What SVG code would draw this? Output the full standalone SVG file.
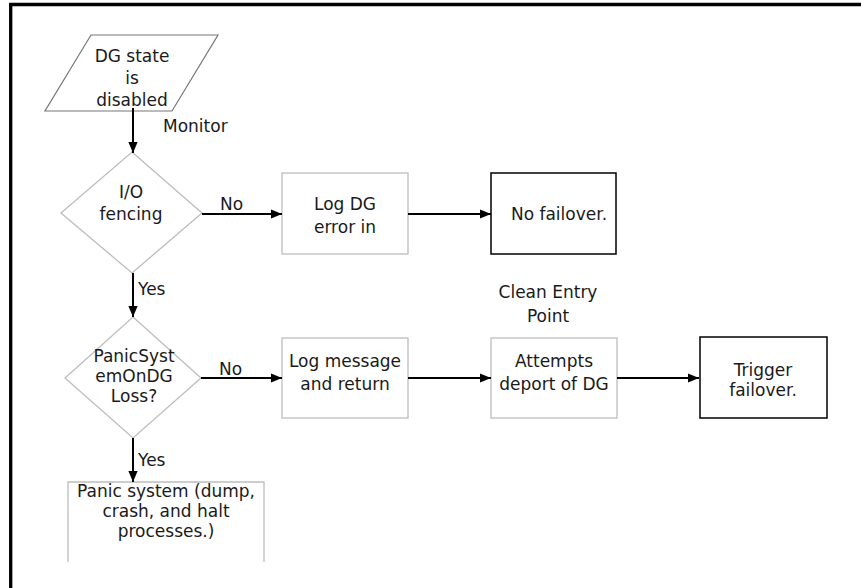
<svg xmlns="http://www.w3.org/2000/svg" width="861" height="588" viewBox="0 0 861 588">
<defs>
<marker id="ah" viewBox="0 0 10 10" refX="10" refY="5" markerWidth="11" markerHeight="11" markerUnits="userSpaceOnUse" orient="auto">
<path d="M0,0.8 L10,5 L0,9.2 Z" fill="#000"/>
</marker>
</defs>
<style>
text{font-family:"DejaVu Sans","Open Sans",sans-serif;font-size:17px;fill:#1a1a1a;text-anchor:middle}
.lbl{text-anchor:start}
.g{fill:#fff;stroke:#bdbdbd;stroke-width:1.3}
.k{fill:#fff;stroke:#000;stroke-width:1.5}
.p{fill:#fff;stroke:#777;stroke-width:1.2}
.c{fill:none;stroke:#000;stroke-width:2;marker-end:url(#ah)}
</style>
<rect width="861" height="588" fill="#fff"/>
<path d="M10.7,588 V4.5 H861" fill="none" stroke="#000" stroke-width="3.3"/>

<g id="n-start">
<polygon class="p" points="91,35 218,35 172,111 45,111"/>
<text x="132" y="62">DG state</text>
<text x="132" y="84">is</text>
<text x="132" y="106">disabled</text>
</g>

<g id="n-iofencing">
<polygon class="g" points="132,152 202,213 132,273 61,213"/>
<text x="131" y="198">I/O</text>
<text x="131" y="220">fencing</text>
</g>

<g id="n-logdg">
<rect class="g" x="282" y="173" width="126" height="81"/>
<text x="345" y="210">Log DG</text>
<text x="345" y="233">error in</text>
</g>

<g id="n-nofailover">
<rect class="k" x="491" y="173" width="125" height="81"/>
<text x="559" y="220">No failover.</text>
</g>

<g id="n-panicq">
<polygon class="g" points="133,317 201,378 133,438 65,378"/>
<text x="134" y="362">PanicSyst</text>
<text x="134" y="382">emOnDG</text>
<text x="134" y="402">Loss?</text>
</g>

<g id="n-logmsg">
<rect class="g" x="282" y="338" width="126" height="80"/>
<text x="345" y="367">Log message</text>
<text x="345" y="390">and return</text>
</g>

<g id="n-clean">
<text x="548" y="298">Clean Entry</text>
<text x="548" y="322">Point</text>
</g>

<g id="n-deport">
<rect class="g" x="491" y="338" width="126" height="80"/>
<text x="554" y="367">Attempts</text>
<text x="554" y="390">deport of DG</text>
</g>

<g id="n-trigger">
<rect class="k" x="700" y="337" width="127" height="81"/>
<text x="763" y="376">Trigger</text>
<text x="763" y="396">failover.</text>
</g>

<g id="n-panic">
<path d="M68,562 V482 H264 V562" class="g" fill="none"/>
<text x="166" y="497">Panic system (dump,</text>
<text x="166" y="517">crash, and halt</text>
<text x="166" y="537">processes.)</text>
</g>

<g id="connectors">
<line class="c" x1="133" y1="108" x2="133" y2="153"/>
<line class="c" x1="202" y1="214" x2="282" y2="214"/>
<line class="c" x1="408" y1="214" x2="491" y2="214"/>
<line class="c" x1="133" y1="273" x2="133" y2="317"/>
<line class="c" x1="201" y1="378" x2="282" y2="378"/>
<line class="c" x1="408" y1="378" x2="491" y2="378"/>
<line class="c" x1="617" y1="378" x2="699" y2="378"/>
<line class="c" x1="133" y1="438" x2="133" y2="482"/>
<text class="lbl" x="163" y="132">Monitor</text>
<text class="lbl" x="220" y="210">No</text>
<text class="lbl" x="138" y="295">Yes</text>
<text class="lbl" x="219" y="375">No</text>
<text class="lbl" x="138" y="466">Yes</text>
</g>
</svg>
